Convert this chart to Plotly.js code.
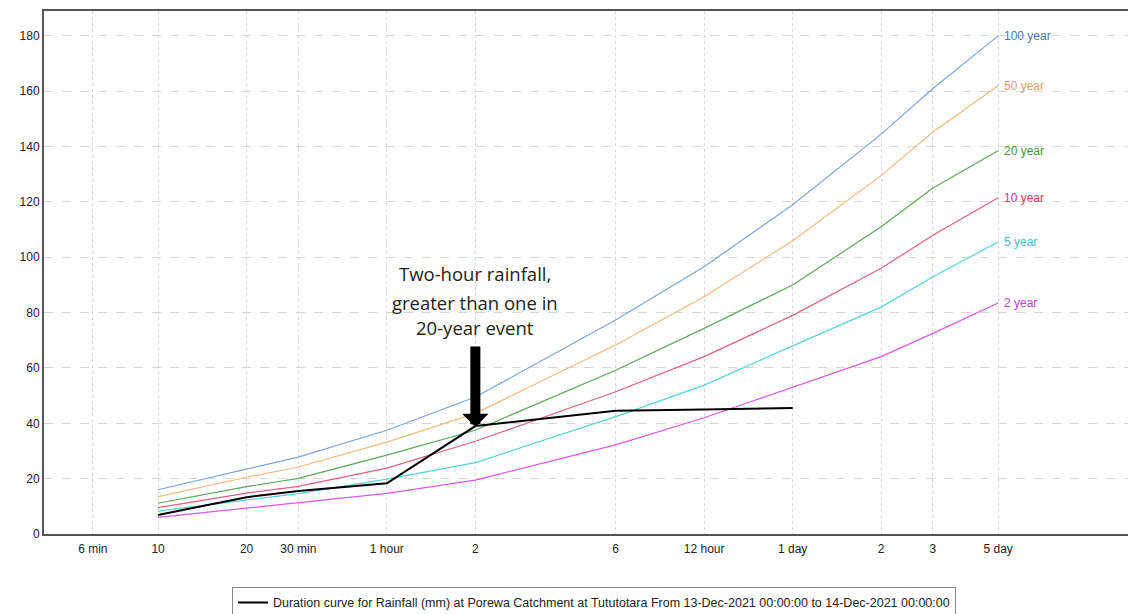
<!DOCTYPE html>
<html>
<head>
<meta charset="utf-8">
<script src="https://cdn.plot.ly/plotly-3.0.1.min.js"></script>
<style>html,body{margin:0;padding:0;background:#fff;}#chart{width:1128px;height:614px;}</style>
</head>
<body>
<div id="chart"></div>
<script>
// Durations in minutes
const durations = [10, 20, 30, 60, 120, 360, 720, 1440, 2880, 4320, 7200];
const y100 = [16.0, 23.5, 27.8, 37.5, 49.5, 77.3, 96.6, 119.0, 144.5, 161.0, 180.0];
const y50  = [13.5, 20.5, 24.2, 33.2, 43.6, 68.3, 85.7, 106.0, 129.5, 145.3, 162.0];
const y20  = [11.1, 17.1, 20.1, 28.5, 37.5, 59.2, 74.3, 90.0, 111.0, 125.0, 138.5];
const y10  = [9.5, 14.8, 17.2, 23.8, 33.5, 51.4, 64.1, 79.0, 96.0, 108.0, 121.5];
const y5   = [8.3, 12.3, 14.6, 19.8, 25.8, 42.4, 53.8, 68.0, 82.0, 93.0, 105.5];
const y2   = [6.0, 9.3, 11.3, 14.7, 19.5, 32.2, 42.0, 53.0, 64.1, 72.5, 83.5];

const obsDurations = [10, 20, 30, 60, 120, 360, 720, 1440];
const obsRain = [6.9, 13.3, 15.5, 18.3, 39.0, 44.5, 45.0, 45.5];

const tickVals = [6, 10, 20, 30, 60, 120, 360, 720, 1440, 2880, 4320, 7200];
const tickText = ['6 min', '10', '20', '30 min', '1 hour', '2', '6', '12 hour', '1 day', '2', '3', '5 day'];

const seriesNames = ['100 year', '50 year', '20 year', '10 year', '5 year', '2 year'];
const seriesData = [y100, y50, y20, y10, y5, y2];
const lineColors = ['#7aa6d8', '#f2b87a', '#5aaa5a', '#e0607a', '#55d4d8', '#e055e0'];
const labelColors = ['#4a78b8', '#e0a060', '#3a963a', '#d0405a', '#40c4cc', '#c040d0'];

const legendText = 'Duration curve for Rainfall (mm) at Porewa Catchment at Tututotara From 13-Dec-2021 00:00:00 to 14-Dec-2021 00:00:00';
const noteLines = ['Two-hour rainfall,', 'greater than one in', '20-year event'];
const noteLineY = [94.3, 83.8, 74.8];
const noteDuration = 120;
const arrowTipY = 38.7;

const traces = seriesData.map((d, i) => ({
  x: durations, y: d, type: 'scatter', mode: 'lines',
  line: {color: lineColors[i], width: 1.2},
  showlegend: false, hoverinfo: 'skip', name: seriesNames[i]
}));
traces.push({
  x: obsDurations, y: obsRain, type: 'scatter', mode: 'lines',
  line: {color: '#000000', width: 2},
  name: legendText, showlegend: true
});

const annotations = seriesData.map((d, i) => ({
  x: Math.log10(durations[durations.length - 1]), y: d[d.length - 1],
  xref: 'x', yref: 'y', text: seriesNames[i], showarrow: false,
  xanchor: 'left', yanchor: 'middle', xshift: 4,
  font: {family: 'Liberation Sans, Arial, sans-serif', size: 12, color: labelColors[i]}
}));
noteLines.forEach((t, i) => annotations.push({
  x: Math.log10(noteDuration), y: noteLineY[i], xref: 'x', yref: 'y', text: t,
  showarrow: false, xanchor: 'center', yanchor: 'middle',
  font: {family: 'Open Sans, sans-serif', size: 18.5, color: '#222'}
}));
annotations.push({
  x: Math.log10(noteDuration), y: arrowTipY, xref: 'x', yref: 'y', text: '',
  showarrow: true, arrowhead: 1, arrowsize: 0.44, arrowwidth: 10, arrowcolor: '#000',
  ax: 0, ay: -82, standoff: 0
});

const layout = {
  width: 1128, height: 614,
  margin: {l: 44, r: 0, t: 11, b: 80, autoexpand: false},
  paper_bgcolor: '#ffffff', plot_bgcolor: '#ffffff',
  font: {family: 'Liberation Sans, Arial, sans-serif', size: 12, color: '#222'},
  xaxis: {
    type: 'log', range: [0.612, 4.299],
    tickvals: tickVals, ticktext: tickText, ticks: '',
    showgrid: true, gridcolor: '#d6d6d6', griddash: 'dot', gridwidth: 1,
    showline: true, mirror: true, linecolor: '#555', linewidth: 2,
    zeroline: false, tickfont: {size: 12, color: '#222'}, ticklabelstandoff: 3
  },
  yaxis: {
    range: [0, 189], dtick: 20, tick0: 0, ticks: '',
    showgrid: true, gridcolor: '#d6d6d6', griddash: 'dash', gridwidth: 1,
    showline: true, linecolor: '#555', linewidth: 2, zeroline: false,
    tickfont: {size: 12, color: '#222'}
  },
  showlegend: true,
  legend: {
    orientation: 'h', x: 0.1734, xanchor: 'left', y: -0.101, yanchor: 'top',
    bordercolor: '#888', borderwidth: 1, bgcolor: '#fff',
    font: {family: 'Liberation Sans, Arial, sans-serif', size: 12.5, color: '#222'},
    itemwidth: 30
  },
  annotations: annotations
};

Plotly.newPlot('chart', traces, layout, {displayModeBar: false, staticPlot: true});
</script>
</body>
</html>
